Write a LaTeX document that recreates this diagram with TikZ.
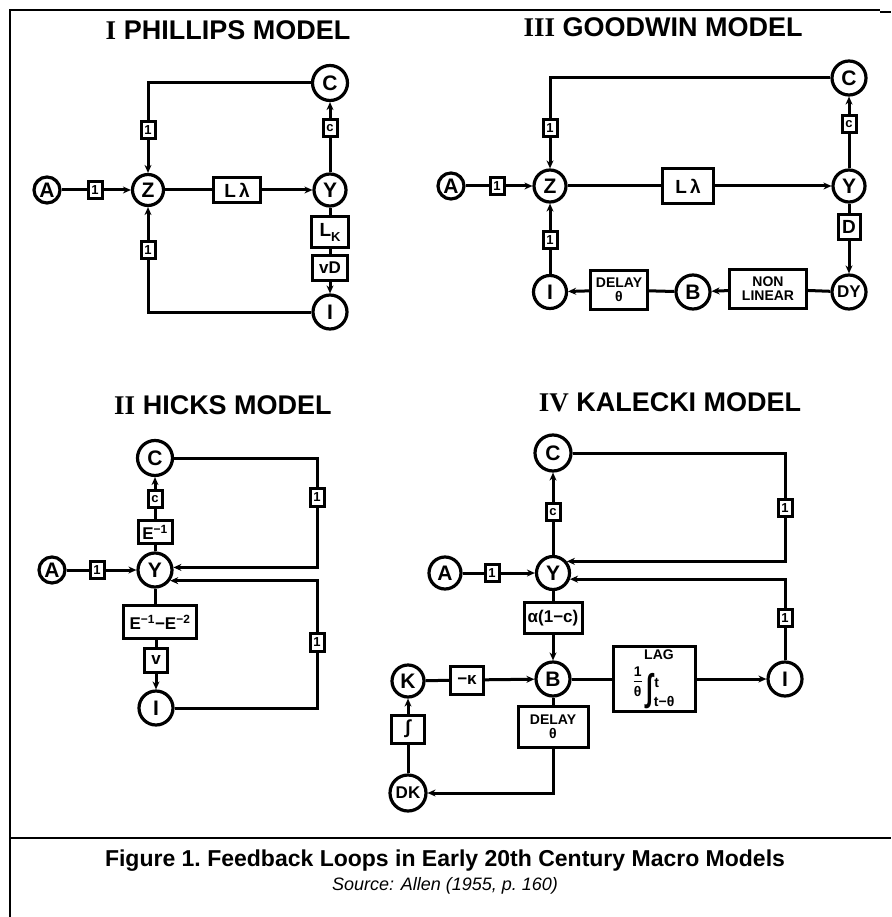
\RequirePackage{fix-cm}
\documentclass[tikz,border=0pt]{standalone}
\usepackage{fontspec}
\setmainfont{Liberation Sans}
\newfontfamily\romfont{Liberation Serif}
\usepackage{tikz}
\usetikzlibrary{arrows.meta}

\begin{document}
\begin{tikzpicture}[x=1pt,y=-1pt,>={Stealth[length=8pt,width=7pt]},line width=3pt,
  circ/.style={draw,circle,line width=3.2pt,inner sep=0pt,minimum size=#1,font=\fontsize{21}{22}\selectfont\bfseries},
  circ/.default=33pt,
  blk/.style 2 args={draw,inner sep=0pt,minimum width=#1,minimum height=#2,align=center,font=\fontsize{19}{20}\selectfont\bfseries},
  unit/.style={draw,inner sep=0pt,minimum width=14pt,minimum height=17pt,font=\fontsize{13}{13}\selectfont\bfseries},
  ttl/.style={font=\fontsize{27}{30}\selectfont\bfseries},
  small/.style={font=\fontsize{14}{14}\selectfont\bfseries}]
\useasboundingbox (0,0) rectangle (891,917);
% frame
\draw[line width=2pt] (10,917) -- (10,10) -- (880,10);
\draw[line width=2pt] (880,12) -- (891,12);
\draw[line width=2pt] (10,838) -- (891,838);

% I Phillips model
\node[ttl] (ptitle) at (228,30) {{\romfont I} PHILLIPS MODEL};
\node[circ=26pt] (pA) at (47,190) {A};
\node[unit] (pu1) at (95,190) {1};
\node[circ=31pt] (pZ) at (148,190) {Z};
\node[blk={47pt}{25pt}] (pL) at (237,190) {L\,λ};
\node[circ=32pt] (pY) at (330,190) {Y};
\node[circ=35pt] (pC) at (330,83) {C};
\node[unit] (pc) at (330,128) {c};
\node[unit] (pu2) at (148,130) {1};
\node[blk={37pt}{31pt}] (pLK) at (330,232) {L\raisebox{-5pt}{\fontsize{13}{13}\selectfont K}};
\node[blk={35pt}{25pt},font=\fontsize{17}{17}\selectfont\bfseries] (pvD) at (330,268) {vD};
\node[circ=34pt] (pI) at (330,312) {I};
\node[unit] (pu3) at (148,250) {1};
\draw (pA) -- (pu1);
\draw[->] (pu1) -- (pZ);
\draw (pZ) -- (pL);
\draw[->] (pL) -- (pY);
\draw (pY) -- (pc);
\draw[->] (pc) -- (pC);
\draw (pC.west) -| (pu2.north);
\draw[->] (pu2) -- (pZ);
\draw (pY) -- (pLK);
\draw (pLK) -- (pvD);
\draw[->] (pvD) -- (pI);
\draw (pI.west) -| (pu3.south);
\draw[->] (pu3) -- (pZ);

% III Goodwin model
\node[ttl] (gtitle) at (663,27) {{\romfont III} GOODWIN MODEL};
\node[circ=26pt] (gA) at (451,186) {A};
\node[unit] (gu1) at (497,186) {1};
\node[circ=32pt] (gZ) at (550,186) {Z};
\node[blk={51pt}{35pt}] (gL) at (688,186) {L\,λ};
\node[circ=32pt] (gY) at (849,186) {Y};
\node[circ=34pt] (gC) at (849,78) {C};
\node[unit] (gc) at (849,124) {c};
\node[unit] (gu2) at (550,128) {1};
\node[blk={22pt}{24pt}] (gD) at (849,227) {D};
\node[circ=34pt,font=\fontsize{17}{17}\selectfont\bfseries] (gDY) at (849,292) {DY};
\node[blk={77pt}{39pt},small] (gNL) at (768,289) {NON\\LINEAR};
\node[circ=34pt] (gB) at (693,292) {B};
\node[blk={57pt}{39pt},small] (gDL) at (619,290) {DELAY\\θ};
\node[circ=33pt] (gI) at (550,292) {I};
\node[unit] (gu3) at (550,240) {1};
\draw (gA) -- (gu1);
\draw[->] (gu1) -- (gZ);
\draw (gZ) -- (gL);
\draw[->] (gL) -- (gY);
\draw (gY) -- (gc);
\draw[->] (gc) -- (gC);
\draw (gC.west) -| (gu2.north);
\draw[->] (gu2) -- (gZ);
\draw (gY) -- (gD);
\draw[->] (gD) -- (gDY);
\draw (gDY) -- (gNL);
\draw[->] (gNL) -- (gB);
\draw (gB) -- (gDL);
\draw[->] (gDL) -- (gI);
\draw (gI) -- (gu3);
\draw[->] (gu3) -- (gZ);

% II Hicks model
\node[ttl] (htitle) at (223,405) {{\romfont II} HICKS MODEL};
\node[circ=35pt] (hC) at (155,458) {C};
\node[unit] (hc) at (155,499) {c};
\node[blk={34pt}{23pt},font=\fontsize{17}{17}\selectfont\bfseries] (hE1) at (155,532) {E\textsuperscript{−1}};
\node[circ=34pt] (hY) at (155,570) {Y};
\node[circ=26pt] (hA) at (52,570) {A};
\node[unit] (hu1) at (97,570) {1};
\node[blk={73pt}{33pt},font=\fontsize{17}{17}\selectfont\bfseries] (hE2) at (160,622) {E\textsuperscript{−1}−E\textsuperscript{−2}};
\node[blk={23pt}{24pt},font=\fontsize{17}{17}\selectfont\bfseries] (hv) at (156,660) {v};
\node[circ=34pt] (hI) at (156,708) {I};
\node[unit,minimum height=18pt] (hu2) at (317,497) {1};
\node[unit,minimum height=18pt] (hu3) at (317,642) {1};
\draw (hA) -- (hu1);
\draw[->] (hu1) -- (hY);
\draw (hY) -- (hE1);
\draw (hE1) -- (hc);
\draw[->] (hc) -- (hC);
\draw (hC.east) -| (hu2.north);
\draw[->] (hu2.south) |- (hY.8);
\draw (hY.south) -- (hY.south |- hE2.north);
\draw (hE2.south -| hv) -- (hv);
\draw[->] (hv) -- (hI);
\draw (hI.east) -| (hu3.south);
\draw[->] (hu3.north) |- (hY.-35);

% IV Kalecki model
\node[ttl] (ktitle) at (670,402) {{\romfont IV} KALECKI MODEL};
\node[circ=36pt] (kC) at (553,453) {C};
\node[unit] (kc) at (553,512) {c};
\node[circ=33pt] (kY) at (553,573) {Y};
\node[circ=32pt] (kA) at (445,573) {A};
\node[unit] (ku1) at (492,573) {1};
\node[blk={58pt}{31pt},font=\fontsize{17}{17}\selectfont\bfseries] (kAl) at (553,618) {α(1−c)};
\node[circ=34pt] (kB) at (553,679) {B};
\node[blk={82pt}{65pt}] (kLag) at (654,679) {{\fontsize{14}{14}\selectfont\hspace*{10pt}LAG}\\[7pt]{\fontsize{14}{14}\selectfont\raisebox{2pt}{\shortstack{1\\[1pt]\rule{8pt}{1.4pt}\\[1pt]θ}}\hspace{5pt}\raisebox{-2pt}{\scalebox{1.1}[1.7]{\fontsize{22}{22}\selectfont ∫}}\hspace{1pt}\raisebox{11pt}{t}\hspace{-5pt}\raisebox{-8pt}{t−θ}}};
\node[circ=34pt] (kI) at (785,679) {I};
\node[unit] (ku2) at (785,508) {1};
\node[unit] (ku3) at (785,618) {1};
\node[circ=32pt] (kK) at (408,681) {K};
\node[blk={33pt}{28pt},font=\fontsize{17}{17}\selectfont\bfseries] (kKap) at (467,680) {−κ};
\node[blk={70pt}{41pt},small] (kDL) at (553,727) {DELAY\\θ};
\node[circ=36pt,font=\fontsize{17}{17}\selectfont\bfseries] (kDK) at (408,793) {DK};
\node[blk={33pt}{28pt}] (kInt) at (408,729) {∫};
\draw (kA) -- (ku1);
\draw[->] (ku1) -- (kY);
\draw (kY) -- (kc);
\draw[->] (kc) -- (kC);
\draw (kC.east) -| (ku2.north);
\draw[->] (ku2.south) |- (kY.40);
\draw (kY) -- (kAl);
\draw[->] (kAl) -- (kB);
\draw (kB) -- (kLag);
\draw[->] (kLag) -- (kI);
\draw (kI) -- (ku3);
\draw[->] (ku3.north) |- (kY.-20);
\draw (kK) -- (kKap);
\draw[->] (kKap) -- (kB);
\draw (kB) -- (kDL);
\draw[->] (kDL.south) |- (kDK);
\draw (kDK) -- (kInt);
\draw[->] (kInt) -- (kK);

% caption
\node[font=\fontsize{23}{25}\selectfont\bfseries] (cap) at (445,861) {Figure 1.\ Feedback Loops in Early 20th Century Macro Models};
\node[font=\fontsize{18}{20}\selectfont\itshape] (src) at (445,886) {Source: Allen (1955, p.\ 160)};
\end{tikzpicture}
\end{document}
